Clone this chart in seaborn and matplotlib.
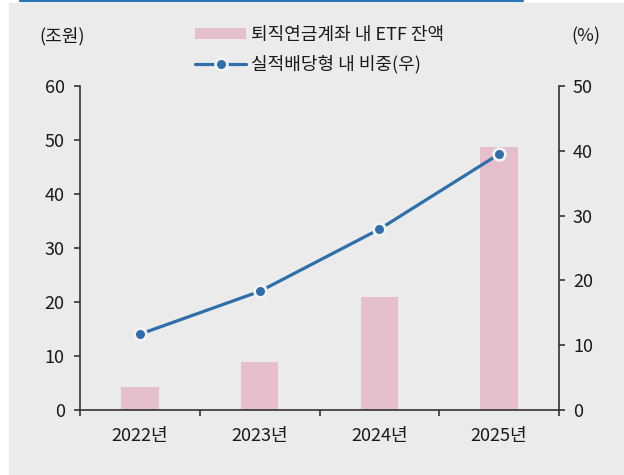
import matplotlib
matplotlib.use("Agg")
import matplotlib.pyplot as plt
from matplotlib.patches import Rectangle, Patch
from matplotlib.lines import Line2D
import seaborn as sns

# -----------------------------
# Data
# -----------------------------
years = ["2022년", "2023년", "2024년", "2025년"]
etf_balance = [4.3, 8.9, 20.9, 48.7]      # 조원, left axis
dividend_share = [11.7, 18.3, 27.9, 39.5]  # %, right axis

bar_label = "퇴직연금계좌 내 ETF 잔액"
line_label = "실적배당형 내 비중(우)"

bar_color = "#e5bfcc"
line_color = "#2f6eaa"
bg_color = "#ebebeb"
spine_color = "#333333"

# -----------------------------
# Style
# -----------------------------
sns.set_style("ticks")
plt.rcParams["font.family"] = ["Noto Sans CJK KR", "DejaVu Sans"]
plt.rcParams["font.size"] = 13
plt.rcParams["text.color"] = "#1a1a1a"
plt.rcParams["xtick.color"] = spine_color
plt.rcParams["ytick.color"] = spine_color
plt.rcParams["xtick.labelcolor"] = "#1a1a1a"
plt.rcParams["ytick.labelcolor"] = "#1a1a1a"

fig = plt.figure(figsize=(6.24, 4.75), dpi=100)
fig.patch.set_facecolor("white")
fig.patches.append(Rectangle((9 / 624, 0), 1 - 9 / 624, 1 - 3 / 475,
                             transform=fig.transFigure, color=bg_color, zorder=-5))
fig.lines.append(Line2D([20 / 624, 523 / 624], [1 - 1.2 / 475, 1 - 1.2 / 475],
                        transform=fig.transFigure, color="#2e75b6", linewidth=1.6))

ax = fig.add_axes([80 / 624, 1 - 410 / 475, (559 - 80) / 624, (410 - 86) / 475])
ax.set_facecolor("none")

# -----------------------------
# Bars (left axis)
# -----------------------------
sns.barplot(x=years, y=etf_balance, ax=ax, color=bar_color, saturation=1,
            width=0.314, linewidth=0, errorbar=None)

# -----------------------------
# Line (right axis)
# -----------------------------
ax2 = ax.twinx()
sns.pointplot(x=years, y=dividend_share, ax=ax2, color=line_color,
              errorbar=None, linewidth=2.3, markersize=8.5)
for ln in ax2.lines:
    ln.set_markeredgecolor("#f3f3f3")
    ln.set_markeredgewidth(2)
    ln.set_markerfacecolor(line_color)

# -----------------------------
# Axes formatting
# -----------------------------
for a in (ax, ax2):
    a.set_xlim(-0.5, 3.5)
    a.set_xlabel("")
    a.set_ylabel("")
    a.spines["top"].set_visible(False)
    for s in ("left", "right", "bottom"):
        a.spines[s].set_color(spine_color)
        a.spines[s].set_linewidth(1.2)

ax.spines["right"].set_visible(False)
ax2.spines["left"].set_visible(False)
ax2.spines["bottom"].set_visible(False)

ax.set_ylim(0, 60)
ax.set_yticks(range(0, 61, 10))
ax2.set_ylim(0, 50)
ax2.set_yticks(range(0, 51, 10))

ax.set_xticks([-0.5, 0.5, 1.5, 2.5, 3.5], [""] * 5)
ax.set_xticks(range(len(years)), years, minor=True)
ax.tick_params(axis="x", which="major", length=4, width=1.2, direction="out")
ax.tick_params(axis="x", which="minor", length=0, pad=12, labelsize=13)
ax.tick_params(axis="y", length=4, width=1.2, pad=7, labelsize=13)
ax2.tick_params(axis="y", length=4, width=1.2, pad=6, labelsize=13)
ax2.tick_params(axis="x", bottom=False, labelbottom=False)

# unit labels
fig.text(62 / 624, 1 - 36 / 475, "(조원)", ha="center", va="center", fontsize=13)
fig.text(586 / 624, 1 - 36 / 475, "(%)", ha="center", va="center", fontsize=13)

# -----------------------------
# Legend
# -----------------------------
handles = [
    Patch(facecolor=bar_color, edgecolor="none"),
    Line2D([], [], color=line_color, linewidth=2.3, marker="o", markersize=8.5,
           markerfacecolor=line_color, markeredgecolor="#f3f3f3", markeredgewidth=2),
]
fig.legend(handles, [bar_label, line_label], loc="center",
           bbox_to_anchor=(320 / 624, 1 - 50 / 475), bbox_transform=fig.transFigure,
           frameon=False, fontsize=13, handlelength=2.8, handleheight=0.55,
           handletextpad=0.3, labelspacing=0.6, borderpad=0)

fig.savefig("out.png", dpi=100, facecolor=fig.get_facecolor())
